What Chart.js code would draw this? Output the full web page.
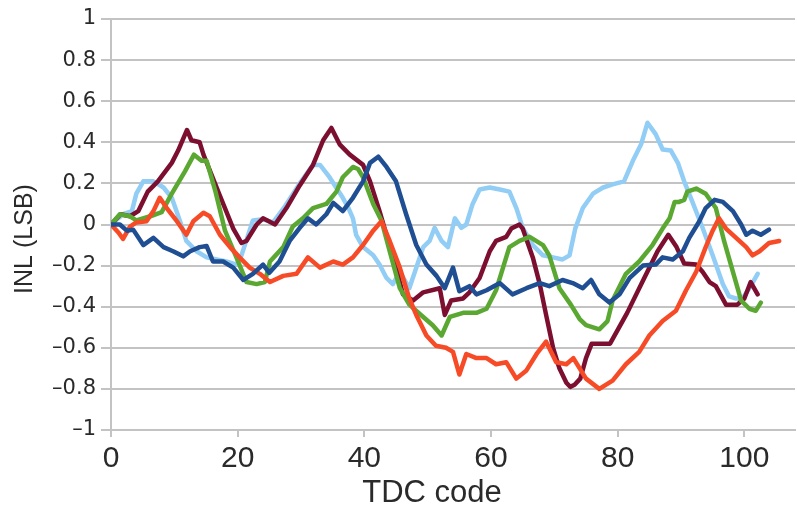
<!DOCTYPE html>
<html>
<head>
<meta charset="utf-8">
<script src="https://cdn.jsdelivr.net/npm/chart.js@4.4.1/dist/chart.umd.min.js"></script>
<style>
  html, body { margin: 0; padding: 0; background: #ffffff; }
  canvas { display: block; }
</style>
</head>
<body>
<canvas id="inl" width="797" height="510"></canvas>
<script>
// Axis ticks
const xTickValues = [0, 20, 40, 60, 80, 100];
const yTickValues = [-1, -0.8, -0.6, -0.4, -0.2, 0, 0.2, 0.4, 0.6, 0.8, 1];

// Light blue curve
const codesLight = [0, 1.9, 3.3, 4.0, 5.1, 6.7, 8.3, 9.6, 10.9, 11.9, 13.5, 15.1, 16.7, 18.2, 19.8, 20.6, 22.4, 24.0, 25.6, 27.5, 29.8, 31.9, 33.0, 34.5, 36.6, 37.5, 38.2, 38.7, 39.8, 41.4, 42.4, 43.5, 44.5, 45.6, 47.1, 48.2, 49.3, 50.3, 51.1, 52.2, 53.2, 54.3, 55.3, 56.1, 57.1, 58.2, 59.8, 61.4, 62.9, 64.0, 65.0, 66.6, 68.2, 69.8, 71.3, 72.4, 73.3, 74.5, 76.1, 77.7, 79.2, 81.0, 82.4, 83.7, 84.7, 86.0, 87.1, 88.4, 89.5, 90.5, 91.8, 93.4, 95.0, 96.6, 97.6, 98.7, 99.7, 101.0, 102.1];
const inlLight   = [0, 0.05, 0.065, 0.15, 0.21, 0.21, 0.18, 0.13, 0.016, -0.08, -0.13, -0.16, -0.17, -0.18, -0.195, -0.15, 0.02, 0.025, 0.01, 0.09, 0.20, 0.29, 0.29, 0.23, 0.13, 0.08, 0.03, -0.05, -0.11, -0.15, -0.195, -0.26, -0.29, -0.23, -0.31, -0.21, -0.11, -0.08, -0.016, -0.08, -0.11, 0.03, -0.016, 0.0, 0.10, 0.17, 0.18, 0.17, 0.16, 0.08, -0.016, -0.10, -0.15, -0.16, -0.17, -0.15, -0.02, 0.08, 0.15, 0.18, 0.195, 0.21, 0.31, 0.39, 0.495, 0.44, 0.365, 0.36, 0.30, 0.21, 0.11, -0.016, -0.15, -0.29, -0.35, -0.36, -0.36, -0.30, -0.24];

// Maroon curve
const codesMaroon = [0, 1.5, 3.0, 4.3, 5.8, 7.4, 9.6, 10.6, 12.0, 12.7, 14.0, 14.6, 17.2, 19.3, 20.6, 21.4, 23.0, 24.0, 25.9, 27.7, 29.8, 31.9, 33.5, 34.8, 36.1, 37.7, 39.8, 40.9, 42.4, 45.0, 46.1, 47.7, 49.3, 51.9, 52.7, 53.7, 55.6, 56.6, 58.2, 59.8, 60.8, 62.4, 63.2, 64.5, 65.0, 66.6, 67.7, 68.7, 69.8, 70.8, 71.9, 72.5, 73.2, 74.1, 75.0, 75.9, 78.8, 81.5, 84.2, 86.3, 88.0, 89.3, 90.5, 92.4, 93.4, 94.5, 95.5, 97.1, 98.9, 100.0, 101.0, 102.1];
const inlMaroon   = [0, 0.05, 0.04, 0.065, 0.16, 0.21, 0.30, 0.36, 0.46, 0.41, 0.40, 0.34, 0.14, -0.02, -0.09, -0.08, 0.0, 0.03, 0.0, 0.08, 0.19, 0.29, 0.41, 0.47, 0.39, 0.34, 0.29, 0.21, 0.065, -0.21, -0.34, -0.37, -0.33, -0.31, -0.44, -0.37, -0.36, -0.33, -0.26, -0.13, -0.08, -0.06, -0.02, 0.0, -0.02, -0.16, -0.29, -0.44, -0.60, -0.70, -0.77, -0.79, -0.78, -0.75, -0.65, -0.58, -0.58, -0.43, -0.26, -0.13, -0.05, -0.11, -0.19, -0.195, -0.23, -0.28, -0.30, -0.39, -0.39, -0.36, -0.28, -0.34];

// Green curve
const codesGreen = [0, 1.4, 3.0, 4.0, 6.2, 8.0, 9.6, 11.7, 13.1, 14.3, 15.1, 16.5, 18.0, 19.8, 21.4, 23.0, 24.3, 25.1, 27.2, 28.7, 30.3, 31.9, 34.0, 35.6, 36.6, 38.2, 39.0, 39.8, 41.4, 42.7, 44.0, 45.6, 47.1, 49.3, 50.8, 52.2, 53.5, 55.6, 57.7, 59.3, 60.8, 61.9, 62.9, 64.5, 66.1, 68.2, 69.2, 70.8, 72.6, 74.0, 75.0, 77.1, 78.4, 79.2, 81.3, 83.4, 85.5, 87.1, 88.2, 89.0, 89.7, 90.5, 91.0, 92.4, 93.9, 95.5, 96.8, 98.2, 99.5, 100.8, 101.8, 102.6];
const inlGreen   = [0, 0.05, 0.04, 0.02, 0.04, 0.06, 0.15, 0.26, 0.34, 0.31, 0.31, 0.16, -0.03, -0.16, -0.28, -0.29, -0.28, -0.18, -0.11, -0.01, 0.03, 0.08, 0.10, 0.16, 0.23, 0.28, 0.27, 0.23, 0.10, 0.02, -0.13, -0.31, -0.39, -0.45, -0.49, -0.54, -0.45, -0.43, -0.43, -0.41, -0.32, -0.21, -0.11, -0.08, -0.06, -0.10, -0.15, -0.31, -0.39, -0.46, -0.49, -0.51, -0.47, -0.37, -0.24, -0.18, -0.10, -0.02, 0.03, 0.11, 0.11, 0.12, 0.16, 0.175, 0.15, 0.08, -0.08, -0.23, -0.37, -0.41, -0.42, -0.38];

// Red curve
const codesRed = [0, 1.2, 1.9, 3.0, 4.0, 5.6, 6.7, 7.7, 8.8, 10.4, 11.9, 13.0, 14.6, 15.6, 17.2, 18.8, 20.3, 21.9, 23.5, 25.1, 27.2, 29.3, 31.1, 33.0, 35.1, 36.6, 38.2, 39.8, 41.4, 42.7, 44.0, 45.6, 47.1, 48.2, 49.8, 51.3, 52.9, 54.0, 55.0, 56.1, 57.7, 59.3, 60.8, 62.4, 64.0, 65.6, 67.2, 68.7, 70.3, 71.9, 73.0, 75.0, 77.1, 79.2, 81.3, 83.4, 85.0, 87.1, 89.2, 90.8, 92.4, 93.9, 95.0, 96.0, 97.1, 98.7, 100.3, 101.3, 102.4, 103.9, 105.5];
const inlRed   = [0, -0.04, -0.07, -0.01, 0.01, 0.016, 0.065, 0.13, 0.08, 0.016, -0.05, 0.016, 0.057, 0.04, -0.05, -0.11, -0.16, -0.21, -0.24, -0.28, -0.25, -0.24, -0.16, -0.21, -0.18, -0.195, -0.16, -0.10, -0.03, 0.016, -0.08, -0.21, -0.36, -0.44, -0.54, -0.59, -0.60, -0.62, -0.73, -0.63, -0.65, -0.65, -0.68, -0.67, -0.75, -0.71, -0.63, -0.57, -0.67, -0.68, -0.65, -0.75, -0.80, -0.76, -0.68, -0.62, -0.54, -0.47, -0.42, -0.32, -0.23, -0.11, -0.03, 0.03, -0.02, -0.065, -0.11, -0.15, -0.13, -0.09, -0.08];

// Dark blue curve
const codesBlue = [0, 1.4, 2.5, 3.5, 5.1, 6.7, 8.3, 9.8, 11.4, 12.5, 14.0, 15.1, 16.1, 17.7, 19.3, 20.9, 22.4, 24.0, 25.0, 26.6, 28.2, 29.8, 31.1, 32.4, 34.0, 35.1, 36.6, 38.2, 39.8, 40.9, 42.2, 43.5, 45.0, 46.6, 48.2, 49.8, 51.4, 52.7, 54.0, 55.0, 56.6, 57.7, 59.3, 61.4, 63.4, 65.6, 67.7, 69.2, 71.3, 72.9, 74.5, 75.8, 77.1, 78.7, 80.3, 81.9, 84.0, 86.0, 87.1, 88.7, 90.3, 91.3, 92.9, 93.9, 95.3, 96.6, 98.2, 99.5, 100.3, 101.3, 102.6, 103.9];
const inlBlue   = [0, 0.0, -0.03, -0.025, -0.10, -0.065, -0.11, -0.13, -0.155, -0.13, -0.11, -0.105, -0.18, -0.18, -0.21, -0.27, -0.24, -0.195, -0.235, -0.18, -0.08, -0.016, 0.03, 0.0, 0.05, 0.105, 0.065, 0.13, 0.21, 0.30, 0.33, 0.28, 0.21, 0.05, -0.10, -0.195, -0.25, -0.31, -0.21, -0.325, -0.30, -0.34, -0.32, -0.285, -0.34, -0.31, -0.285, -0.30, -0.27, -0.285, -0.31, -0.27, -0.34, -0.38, -0.34, -0.26, -0.20, -0.195, -0.16, -0.17, -0.13, -0.065, 0.016, 0.08, 0.12, 0.11, 0.065, 0.0, -0.05, -0.03, -0.05, -0.025];

function toPoints(codes, values) {
  return codes.map((c, i) => ({ x: c, y: values[i] }));
}

function line(values, codes, color) {
  return {
    data: toPoints(codes, values),
    borderColor: color,
    borderWidth: 4.5,
    pointRadius: 0,
    tension: 0,
    fill: false,
    borderJoinStyle: 'round',
    borderCapStyle: 'round'
  };
}

// Datasets listed top-most first
const datasets = [
  line(inlBlue, codesBlue, '#1f4e92'),
  line(inlRed, codesRed, '#f64b26'),
  line(inlGreen, codesGreen, '#5aa832'),
  line(inlMaroon, codesMaroon, '#7c0f30'),
  line(inlLight, codesLight, '#92cdf6')
];

const gridGray = '#c3c3c3';
const textColor = '#2a2a2a';

function formatInl(v) {
  const r = Math.round(v * 10) / 10;
  if (r === 0) return '0';
  return r < 0 ? '\u2013' + String(Math.abs(r)) : String(r);
}

// Axis titles drawn as text at fixed spots beside the plot
const axisTitles = {
  id: 'axisTitles',
  afterDraw(chart) {
    const ctx = chart.ctx;
    ctx.save();
    ctx.fillStyle = textColor;
    ctx.textAlign = 'center';
    ctx.textBaseline = 'middle';
    ctx.font = '31px "Liberation Sans", sans-serif';
    ctx.fillText('TDC code', 432, 493);
    ctx.translate(25, 239);
    ctx.rotate(-Math.PI / 2);
    ctx.font = '25px "Liberation Sans", sans-serif';
    ctx.fillText('INL (LSB)', 0, 0);
    ctx.restore();
  }
};

new Chart(document.getElementById('inl'), {
  type: 'line',
  data: { datasets },
  plugins: [axisTitles],
  options: {
    responsive: false,
    animation: false,
    events: [],
    layout: { padding: { left: 0, top: 19, right: 2, bottom: 0 } },
    plugins: { legend: { display: false }, tooltip: { enabled: false } },
    scales: {
      x: {
        type: 'linear',
        min: 0,
        max: 108,
        afterBuildTicks(scale) { scale.ticks = xTickValues.map(v => ({ value: v })); },
        afterFit(scale) { scale.height = 80; },
        grid: {
          drawOnChartArea: false,
          drawTicks: true,
          tickLength: 7,
          color: gridGray,
          lineWidth: 2
        },
        border: { display: true, color: gridGray, width: 2 },
        ticks: {
          padding: 4,
          maxRotation: 0,
          color: textColor,
          font: { family: '"Liberation Sans", sans-serif', size: 30 }
        }
      },
      y: {
        type: 'linear',
        min: -1,
        max: 1,
        afterBuildTicks(scale) { scale.ticks = yTickValues.map(v => ({ value: v })); },
        afterFit(scale) { scale.width = 111; },
        grid: {
          drawTicks: true,
          tickLength: 10,
          color: gridGray,
          lineWidth: 2
        },
        border: { display: true, color: gridGray, width: 2 },
        ticks: {
          padding: 5,
          color: textColor,
          font: { family: '"DejaVu Sans", sans-serif', size: 21 },
          callback: (v) => formatInl(v)
        }
      }
    }
  }
});
</script>
</body>
</html>
